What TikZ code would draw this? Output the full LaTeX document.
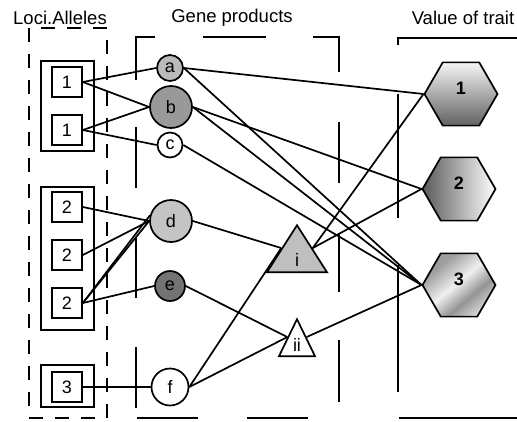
\documentclass[tikz,border=0pt]{standalone}
\usepackage{fontspec}
\setmainfont{Liberation Sans}
\usetikzlibrary{calc,shapes.geometric}

\begin{document}
\begin{tikzpicture}[x=1pt, y=-1pt, line width=1.7pt,
    lbl/.style={font=\fontsize{18}{18}\selectfont},
    title/.style={font=\fontsize{18.5}{18.5}\selectfont},
    allele/.style={draw, lbl, minimum size=30pt, inner sep=0pt},
    product/.style={draw, lbl, circle, inner sep=0pt},
    effect/.style={draw, isosceles triangle, isosceles triangle stretches, shape border rotate=90, inner sep=0pt, anchor=apex},
    trait/.style={draw, regular polygon, regular polygon sides=6, minimum size=73pt, inner sep=0pt},
    traitlbl/.style={font=\fontsize{18}{18}\selectfont\bfseries, yshift=6pt}
]
    \useasboundingbox (0,0) rectangle (517,421);
    \pgfdeclarehorizontalshading{steel}{100bp}{color(0bp)=(black!42); color(30bp)=(black!38); color(48bp)=(black!6); color(62bp)=(black!42); color(78bp)=(black!10); color(100bp)=(black!18)}

    \node[title] (t1) at (60,18) {Loci.Alleles};
    \node[title] (t2) at (232,18) {Gene products};
    \node[title] (t3) at (463,18) {Value of trait};

    % frames
    \path[draw, dash pattern=on 14pt off 12pt] (29,28) rectangle (107,418);

    \path[draw] (155,37) -- (136,37) -- (136,80);
    \path[draw] (136,127) -- (136,188);
    \path[draw] (136,237) -- (136,298);
    \path[draw] (136,347) -- (136,408);
    \path[draw] (203,37) -- (266,37);
    \path[draw] (313,37) -- (339,37) -- (339,72);
    \path[draw] (339,122) -- (339,183);
    \path[draw] (339,233) -- (339,292);
    \path[draw] (339,340) -- (339,402);
    \path[draw] (137,418) -- (198,418);
    \path[draw] (247,418) -- (308,418);

    \path[draw] (398,45) -- (398,38) -- (517,38);
    \path[draw] (398,94) -- (398,218);
    \path[draw] (398,265) -- (398,392);
    \path[draw] (399,418) -- (517,418);

    % alleles
    \path[draw] (41,61) rectangle (94,151);
    \path[draw] (41,187) rectangle (94,330);
    \path[draw] (41,365) rectangle (94,407);

    \node[allele] (al1a) at (67,82) {1};
    \node[allele] (al1b) at (67,130) {1};
    \node[allele] (al2a) at (67,207) {2};
    \node[allele] (al2b) at (67,255) {2};
    \node[allele] (al2c) at (67,303) {2};
    \node[allele] (al3) at (67,387) {3};

    % gene products
    \node[product, fill=black!27, minimum size=26pt] (a) at (170,68) {a};
    \node[product, fill=black!40, minimum size=42pt] (b) at (171,107) {b};
    \node[product, fill=white, minimum size=25pt] (c) at (170,145) {c};
    \node[product, fill=black!23, minimum size=42pt] (d) at (171,221) {d};
    \node[product, fill=black!55, minimum size=30pt] (e) at (170,286) {e};
    \node[product, fill=white, minimum size=37pt] (f) at (170,387) {f};

    \node[effect, fill=black!25, minimum width=60pt, minimum height=47pt] (i) at (297,223) {};
    \node[effect, fill=white, minimum width=36pt, minimum height=37pt] (ii) at (297,317) {};
    \node[lbl] (il) at ($(i.apex)!0.73!(i.lower side)$) {i};
    \node[lbl] (iil) at ($(ii.apex)!0.70!(ii.lower side)$) {ii};

    % traits
    \node[trait, top color=black!4, bottom color=black!62, label={[traitlbl]center:1}] (h1) at (461,94) {};
    \node[trait, left color=black!65, right color=white, label={[traitlbl]center:2}] (h2) at (459,189) {};
    \node[trait, shading=steel, shading angle=-50, label={[traitlbl]center:3}] (h3) at (459,285) {};

    % links
    \path[draw] (al1a.east) -- (a.west);
    \path[draw] (al1a.east) -- (b.west);
    \path[draw] (al1b.east) -- (b.west);
    \path[draw] (al1b.east) -- (c.west);
    \path[draw] (al2a.east) -- (d.west);
    \path[draw] (al2b.east) -- (d.west);
    \path[draw] (al2c.east) -- (d.west);
    \path[draw] (al2c.east) -- (d.165);
    \path[draw] (al2c.east) -- (e.west);
    \path[draw] (al3.east) -- (f.west);

    \path[draw] (a.east) -- (h1.west);
    \path[draw] (a.east) -- (h3.west);
    \path[draw] (b.east) -- (h2.west);
    \path[draw] (b.east) -- (h3.west);
    \path[draw] (c.east) -- (h3.west);
    \path[draw] (d.east) -- (i.left side);
    \path[draw] (f.east) -- (i.left side);
    \path[draw] (e.east) -- (ii.left side);
    \path[draw] (f.east) -- (ii.left side);

    \path[draw] (i.right side) -- (h1.west);
    \path[draw] (i.right side) -- (h2.west);
    \path[draw] (ii.right side) -- (h3.west);

\end{tikzpicture}
\end{document}
